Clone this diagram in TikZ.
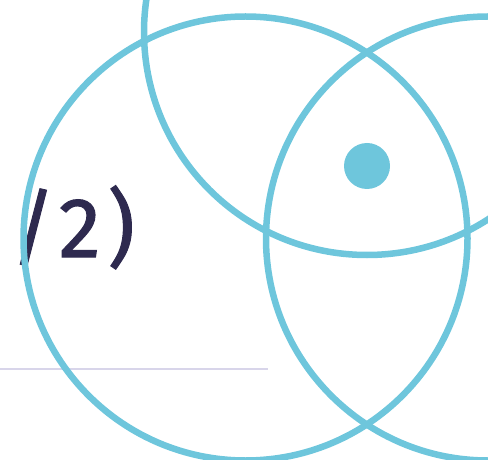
\documentclass[tikz,border=0pt]{standalone}
\usepackage{fontspec}
\setmainfont{Fira Sans}
\newfontfamily\fracfont[LetterSpace=8, FakeBold=1.2]{Fira Sans}
\usepackage{xcolor}
\usepackage{tikz}
\usetikzlibrary{positioning}

\definecolor{ringblue}{HTML}{6EC6DC}
\definecolor{inkdark}{HTML}{2E2A4F}
\definecolor{rulelav}{HTML}{D8D5EA}

\begin{document}
\begin{tikzpicture}[x=1bp, y=-1bp, thick]

    \tikzstyle{ring}=[draw=ringblue, line width=6.5bp]
    \tikzstyle{frac}=[text=inkdark, inner sep=0pt, anchor=base west, font=\fracfont\fontsize{85}{85}\selectfont]

    \useasboundingbox (0,0) rectangle (488,460);
    \clip (0,0) rectangle (488,460);

    \draw[rulelav, line width=1.5bp] (0,369) -- (268,369);

    \node[frac] (HALF) at (11,257) {/2)};

    \draw[ring] (245.5,238.5) circle (222);
    \draw[ring] (367,32) circle (223);
    \draw[ring] (488,238.5) circle (222);
    \fill[ringblue] (367,166) circle (23);

\end{tikzpicture}
\end{document}
